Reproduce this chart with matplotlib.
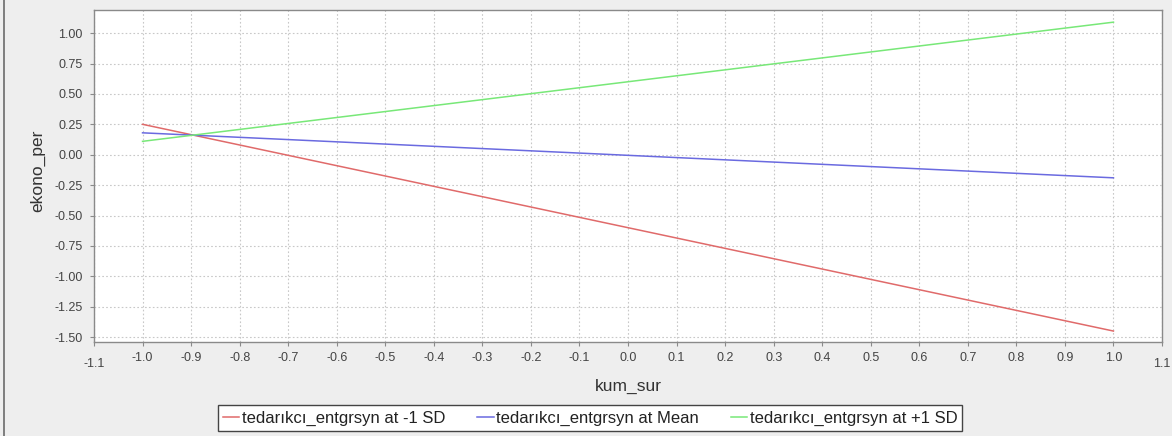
import numpy as np
import matplotlib
matplotlib.use("Agg")
import matplotlib.pyplot as plt
from matplotlib.transforms import ScaledTranslation
from matplotlib.lines import Line2D

# ---- data ----
x_vals = [-1.0, 1.0]
low_sd = [0.25, -1.45]
mean_vals = [0.18, -0.19]
high_sd = [0.11, 1.09]
series_labels = ["tedarıkcı_entgrsyn at -1 SD",
                 "tedarıkcı_entgrsyn at Mean",
                 "tedarıkcı_entgrsyn at +1 SD"]
x_ticks = [round(v, 1) for v in np.arange(-1.1, 1.1001, 0.1)]
y_ticks = [-1.50, -1.25, -1.00, -0.75, -0.50, -0.25, 0.00, 0.25, 0.50, 0.75, 1.00]
x_label = "kum_sur"
y_label = "ekono_per"

plt.rcParams['font.family'] = ['Liberation Sans', 'DejaVu Sans']

W, H = 1172, 436
fig = plt.figure(figsize=(W / 100, H / 100), dpi=100)
fig.patch.set_facecolor('#eeeeee')

ax_l, ax_r, ax_t, ax_b = 94, 1162, 10, 342
ax = fig.add_axes([ax_l / W, 1 - ax_b / H, (ax_r - ax_l) / W, (ax_b - ax_t) / H])
ax.set_facecolor('white')

colors = ['#e06a6a', '#6a6ae0', '#78e878']
for ys, c, lab in zip([low_sd, mean_vals, high_sd], colors, series_labels):
    ax.plot(x_vals, ys, color=c, lw=1.1, label=lab)

ax.set_xlim(-1.1, 1.1)
ax.set_ylim(-1.54, 1.19)
ax.set_xticks(x_ticks)
ax.set_xticklabels([f"{v:.1f}" if abs(v) > 1e-9 else "0.0" for v in x_ticks])
ax.set_yticks(y_ticks)
ax.set_yticklabels([f"{v:.2f}" if abs(v) > 1e-9 else "0.00" for v in y_ticks])

ax.grid(True, color='#c8c8c8', linestyle=(0, (1.5, 2)), linewidth=0.8)
ax.set_axisbelow(True)
for s in ax.spines.values():
    s.set_color('#8a8a8a')
    s.set_linewidth(1.0)
ax.tick_params(axis='both', colors='#8a8a8a', labelcolor='#444444',
               labelsize=9, length=3, width=0.8)
ax.tick_params(axis='y', pad=5)
ax.tick_params(axis='x', pad=4)

# edge x labels sit lower
xtl = ax.get_xticklabels()
for lab in (xtl[0], xtl[-1]):
    lab.set_transform(lab.get_transform() + ScaledTranslation(0, -6 / 100, fig.dpi_scale_trans))

ax.set_xlabel(x_label, fontsize=12.5, color='#333333')
ax.xaxis.label.set_va('center')
ax.xaxis.set_label_coords(0.5, (ax_b - 386) / (ax_b - ax_t))
ax.set_ylabel(y_label, fontsize=12.5, color='#333333')
ax.yaxis.label.set_va('center')
ax.yaxis.set_label_coords((38 - ax_l) / (ax_r - ax_l), (ax_b - 171) / (ax_b - ax_t))

leg = fig.legend(loc='center', bbox_to_anchor=(590 / W, 1 - 418 / H), ncol=3,
                 fontsize=12, frameon=True, fancybox=False, handlelength=1.0,
                 handletextpad=0.15, columnspacing=1.9, borderpad=0.3,
                 borderaxespad=0)
fr = leg.get_frame()
fr.set_edgecolor('#444444')
fr.set_facecolor('white')
fr.set_linewidth(1.0)
fr.set_alpha(1)
for t in leg.get_texts():
    t.set_color('#222222')

# left panel border
fig.add_artist(Line2D([4 / W, 4 / W], [0, 1], transform=fig.transFigure,
                      color='#6a6a6a', lw=1.2))

fig.savefig("out.png", dpi=100, facecolor=fig.get_facecolor())
